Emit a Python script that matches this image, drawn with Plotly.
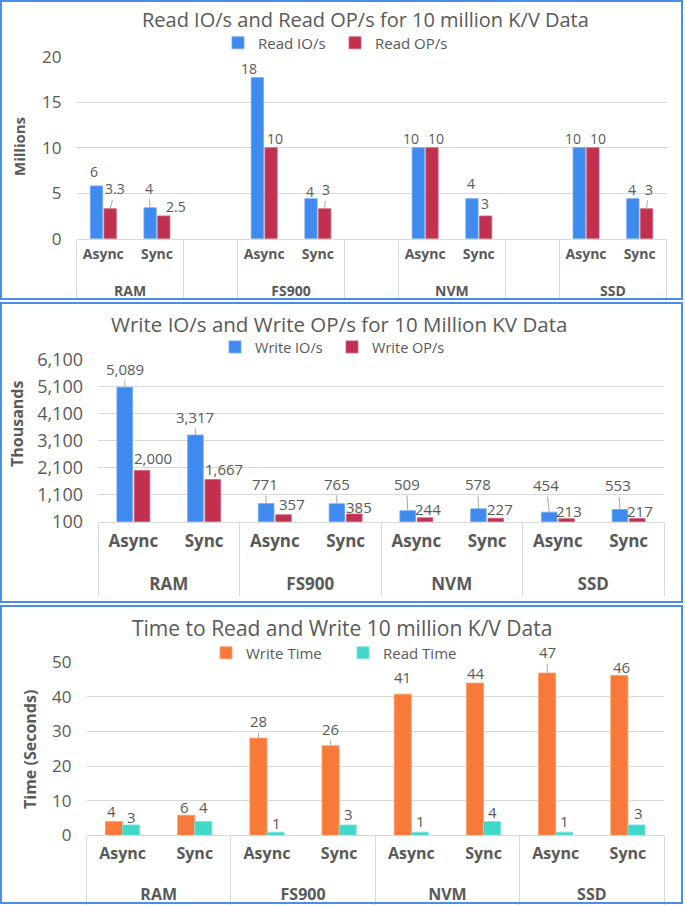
import plotly.graph_objects as go

# ---------------- data ----------------
platforms = ["RAM", "FS900", "NVM", "SSD"]
modes = ["Async", "Sync"]

# Chart 1 (Millions)
read_io = [5.8, 3.4, 17.7, 4.4, 10.0, 4.4, 10.0, 4.4]
read_io_labels = ["6", "4", "18", "4", "10", "4", "10", "4"]
read_op = [3.3, 2.5, 10.0, 3.3, 10.0, 2.5, 10.0, 3.3]
read_op_labels = ["3.3", "2.5", "10", "3", "10", "3", "10", "3"]

# Chart 2 (Thousands)
write_io = [5089, 3317, 771, 765, 509, 578, 454, 553]
write_op = [2000, 1667, 357, 385, 244, 227, 213, 217]
write_ticks = [100, 1100, 2100, 3100, 4100, 5100, 6100]

# Chart 3 (Seconds)
write_time = [4.0, 5.8, 28.1, 25.9, 40.8, 44.0, 46.9, 46.2]
write_time_labels = ["4", "6", "28", "26", "41", "44", "47", "46"]
read_time = [3.0, 4.0, 0.9, 3.0, 0.9, 4.0, 0.9, 3.0]
read_time_labels = ["3", "4", "1", "3", "1", "4", "1", "3"]

# ---------------- label placement styles (px offset from bar top, leader line flag) ----------------
read_io_off = [(-2.5, -14.6, 0), (-1.5, -19.5, 1), (-8, -9.3, 0), (-0.6, -7, 0),
               (-7.3, -9.4, 0), (-1, -15.4, 0), (-6.3, -9.4, 0), (-1, -9.4, 0)]
read_op_off = [(5.3, -19.7, 1), (12.4, -9.3, 0), (3.6, -9.4, 0), (1.1, -18.7, 1),
               (4.1, -9.4, 0), (-0.2, -12, 0), (5.4, -9.4, 0), (2.1, -19.4, 1)]
write_io_off = [(0.7, -18, 1), (-0.9, -18, 1), (-0.9, -19.6, 1), (-0.4, -19.8, 1),
                (-1.2, -26.7, 1), (-0.7, -24.8, 1), (-2.9, -27, 1), (-1.5, -24, 1)]
write_op_off = [(11, -13, 0), (11, -10, 0), (8, -11, 0), (5, -7.3, 0),
                (3, -8.5, 0), (4, -9, 0), (2, -8, 0), (3, -8, 0)]
write_time_off = [(-2.5, -10.5, 0), (-1.3, -8, 0), (0.3, -16.8, 1), (0.3, -16.7, 1),
                  (0.2, -16.8, 0), (1.4, -10.4, 0), (0.5, -20.7, 1), (2.2, -8, 0)]
read_time_off = [(0, -7.6, 0), (0, -14, 0), (0.6, -9.5, 0), (0.5, -11, 0),
                 (0.5, -11.5, 0), (0.4, -9.2, 0), (0.4, -11.5, 0), (1.6, -11.6, 0)]

# ---------------- style ----------------
W, H = 685, 905
FONT = "Open Sans"
GRAY = "#595959"
GRID = "#D9D9D9"
LEADER = "#A6A6A6"
BLUE = "#3E8AEE"
RED = "#C1304F"
ORANGE = "#F77A3A"
TEAL = "#41D8CA"
BORDER = "#4A8EEB"


def px_x(x):
    return x / W


def px_y(y):
    return 1 - y / H


# multicategory x for chart 1 (blank spacer column between platform groups)
x1_groups, x1_subs, idx1 = [], [], []
for gi, p in enumerate(platforms):
    for m in modes:
        idx1.append(len(x1_groups))
        x1_groups.append("<br>" + p)
        x1_subs.append(m)
    if gi < len(platforms) - 1:
        x1_groups.append(" " * (gi + 1))
        x1_subs.append(" ")


def with_gaps(vals):
    out = [None] * len(x1_groups)
    for k, i in enumerate(idx1):
        out[i] = vals[k]
    return out


x2_groups = ["<br>" + p for p in platforms for m in modes]
x2_subs = [m for p in platforms for m in modes]
idx2 = list(range(len(x2_groups)))

fig = go.Figure()


def geom(group_w, inner_gap, k):
    slot = group_w / 2
    width = slot * (1 - inner_gap)
    offset = -group_w / 2 + k * slot + slot * inner_gap / 2
    return offset, width


def add_series(x, y, name, color, edge, ax, leg, k, group_w, inner_gap):
    offset, width = geom(group_w, inner_gap, k)
    fig.add_trace(go.Bar(x=x, y=y, name=name, offset=offset, width=width,
                         marker=dict(color=color, line=dict(color=edge, width=0.8)),
                         xaxis=ax[0], yaxis=ax[1], legend=leg))


def add_labels(idx, vals, labels, offs, ax, k, group_w, inner_gap, size):
    offset, width = geom(group_w, inner_gap, k)
    for i, v, t, (dx, dy, lead) in zip(idx, vals, labels, offs):
        xc = i + offset + width / 2
        common = dict(x=xc, y=v, xref=ax[0], yref=ax[1], text=t,
                      font=dict(family=FONT, size=size, color=GRAY),
                      xanchor="center", yanchor="middle")
        if lead:
            fig.add_annotation(**common, showarrow=True, arrowhead=0, arrowwidth=1,
                               arrowcolor=LEADER, ax=dx, ay=dy, standoff=0)
        else:
            fig.add_annotation(**common, showarrow=False, xshift=dx, yshift=-dy)


G1, GAP1 = 0.51, 0.1
G2, GAP2 = 0.49, 0.1
G3, GAP3 = 0.475, 0.0

# chart 1
add_series([x1_groups, x1_subs], with_gaps(read_io), "Read IO/s", BLUE, "#6FA8F2", ("x", "y"), "legend", 0, G1, GAP1)
add_series([x1_groups, x1_subs], with_gaps(read_op), "Read OP/s", RED, "#D06079", ("x", "y"), "legend", 1, G1, GAP1)
add_labels(idx1, read_io, read_io_labels, read_io_off, ("x", "y"), 0, G1, GAP1, 14)
add_labels(idx1, read_op, read_op_labels, read_op_off, ("x", "y"), 1, G1, GAP1, 14)

# chart 2
add_series([x2_groups, x2_subs], write_io, "Write IO/s", BLUE, "#6FA8F2", ("x2", "y2"), "legend2", 0, G2, GAP2)
add_series([x2_groups, x2_subs], write_op, "Write OP/s", RED, "#D06079", ("x2", "y2"), "legend2", 1, G2, GAP2)
add_labels(idx2, write_io, [f"{v:,}" for v in write_io], write_io_off, ("x2", "y2"), 0, G2, GAP2, 15)
add_labels(idx2, write_op, [f"{v:,}" for v in write_op], write_op_off, ("x2", "y2"), 1, G2, GAP2, 15)

# chart 3
add_series([x2_groups, x2_subs], write_time, "Write Time", ORANGE, "#F9A070", ("x3", "y3"), "legend3", 0, G3, GAP3)
add_series([x2_groups, x2_subs], read_time, "Read Time", TEAL, "#7FE5DB", ("x3", "y3"), "legend3", 1, G3, GAP3)
add_labels(idx2, write_time, write_time_labels, write_time_off, ("x3", "y3"), 0, G3, GAP3, 15)
add_labels(idx2, read_time, read_time_labels, read_time_off, ("x3", "y3"), 1, G3, GAP3, 15)

xcommon = dict(type="multicategory", showline=True, linecolor=GRID, linewidth=1,
               showdividers=True, dividercolor=GRID, dividerwidth=1,
               showgrid=False, ticks="", fixedrange=True, automargin=False)
ycommon = dict(showgrid=True, gridcolor=GRID, gridwidth=1, zeroline=False, showline=False,
               ticks="", ticklabelstandoff=14, automargin=False, fixedrange=True)

leg_common = dict(orientation="h", xanchor="center", yanchor="middle", itemwidth=30,
                  font=dict(family=FONT, size=15, color=GRAY), bgcolor="rgba(0,0,0,0)")

fig.update_layout(
    width=W, height=H, margin=dict(l=0, r=0, t=0, b=0, autoexpand=False),
    paper_bgcolor="white", plot_bgcolor="white",
    font=dict(family=FONT, color=GRAY),
    barmode="overlay",
    xaxis=dict(xcommon, domain=[px_x(76.5), px_x(666.5)], anchor="y", ticklabelstandoff=2,
               tickfont=dict(family=FONT, size=14, color=GRAY, weight="bold")),
    yaxis=dict(ycommon, domain=[px_y(238.7), px_y(56.7)], anchor="x", range=[0, 20], dtick=5,
               tickfont=dict(family=FONT, size=17, color=GRAY)),
    xaxis2=dict(xcommon, domain=[px_x(98), px_x(664)], anchor="y2", ticklabelstandoff=4,
                tickfont=dict(family=FONT, size=17, color=GRAY, weight="bold")),
    yaxis2=dict(ycommon, domain=[px_y(521.7), px_y(360)], anchor="x2", range=[100, 6100],
                tickvals=write_ticks, tickformat=",",
                tickfont=dict(family=FONT, size=18, color=GRAY)),
    xaxis3=dict(xcommon, domain=[px_x(86.5), px_x(664)], anchor="y3", ticklabelstandoff=3,
                tickfont=dict(family=FONT, size=16, color=GRAY, weight="bold")),
    yaxis3=dict(ycommon, domain=[px_y(835.3), px_y(662.3)], anchor="x3", range=[0, 50], dtick=10,
                tickfont=dict(family=FONT, size=17, color=GRAY)),
    legend=dict(leg_common, x=px_x(335), y=px_y(43), entrywidth=72),
    legend2=dict(leg_common, x=px_x(332), y=px_y(347), entrywidth=72,
                 font=dict(family=FONT, size=14.5, color=GRAY)),
    legend3=dict(leg_common, x=px_x(343), y=px_y(653), entrywidth=92),
)

# panel borders
for (y0, y1) in [(1, 299), (303, 602), (606, 903)]:
    fig.add_shape(type="rect", xref="paper", yref="paper",
                  x0=px_x(1), x1=px_x(682), y0=px_y(y1), y1=px_y(y0),
                  line=dict(color=BORDER, width=2), fillcolor="rgba(0,0,0,0)")

# titles
titles = [
    ("Read IO/s and Read OP/s for 10 million K/V Data", 365, 19, 20),
    ("Write IO/s and Write OP/s for 10 Million KV Data", 339, 324, 20.5),
    ("Time to Read and Write 10 million K/V Data", 342, 628, 21),
]
for t, cx, cy, s in titles:
    fig.add_annotation(text=t, xref="paper", yref="paper", x=px_x(cx), y=px_y(cy),
                       xanchor="center", yanchor="middle", showarrow=False,
                       font=dict(family=FONT, size=s, color=GRAY))

# y-axis titles
ytitles = [("Millions", 19, 147, 15), ("Thousands", 17, 424, 16), ("Time (Seconds)", 30, 750, 16)]
for t, cx, cy, s in ytitles:
    fig.add_annotation(text=t, xref="paper", yref="paper", x=px_x(cx), y=px_y(cy),
                       xanchor="center", yanchor="middle", showarrow=False, textangle=-90,
                       font=dict(family=FONT, size=s, color=GRAY, weight="bold"))

fig.write_html("out.html", config={"displayModeBar": False},
               post_script="document.body.style.margin='0';")
